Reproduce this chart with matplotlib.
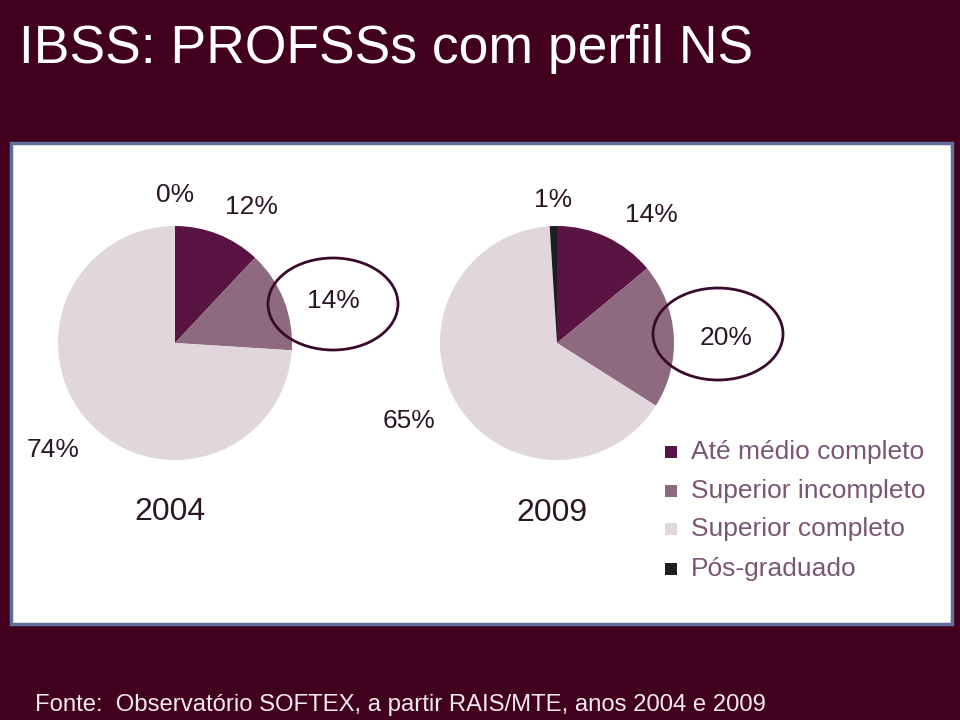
import matplotlib
matplotlib.use("Agg")
import matplotlib.pyplot as plt
from matplotlib import font_manager
from matplotlib.patches import Rectangle, Ellipse

# ---------------- data ----------------
categories = ["Até médio completo", "Superior incompleto", "Superior completo", "Pós-graduado"]
values_2004 = [12, 14, 74, 0]
values_2009 = [14, 20, 65, 1]
years = ["2004", "2009"]
title = "IBSS: PROFSSs com perfil NS"
source = "Fonte:  Observatório SOFTEX, a partir RAIS/MTE, anos 2004 e 2009"

colors = ["#5a1444", "#8e6a80", "#e0d6dc", "#1e1e1e"]
BG = "#42001f"

names = {f.name for f in font_manager.fontManager.ttflist}
REG = "Liberation Sans" if "Liberation Sans" in names else "DejaVu Sans"

W, H = 960, 720
fig = plt.figure(figsize=(9.6, 7.2), dpi=100, facecolor=BG)

def box(cx, cy, r):
    return [(cx - r) / W, 1 - (cy + r) / H, 2 * r / W, 2 * r / H]

# background / panel axes in pixel coordinates
bg = fig.add_axes([0, 0, 1, 1], zorder=0)
bg.set_xlim(0, W); bg.set_ylim(H, 0); bg.axis("off")
bg.add_patch(Rectangle((11, 143), 941, 481, facecolor="white",
                       edgecolor="#5e6f9c", linewidth=2.5))

# pies
centers = [(175, 343), (557, 343)]
radius = 117
for (cx, cy), vals in zip(centers, [values_2004, values_2009]):
    ax = fig.add_axes(box(cx, cy, radius), zorder=1)
    ax.pie(vals, colors=colors, startangle=90, counterclock=False, radius=1,
           wedgeprops=dict(linewidth=0))
    ax.set_xlim(-1, 1); ax.set_ylim(-1, 1); ax.set_aspect("equal")
    ax.axis("off")

# overlay
ov = fig.add_axes([0, 0, 1, 1], zorder=2)
ov.set_xlim(0, W); ov.set_ylim(H, 0); ov.axis("off"); ov.patch.set_alpha(0)

ov.text(19, 49, title, color="white", fontsize=38.5, family=REG,
        ha="left", va="center")
ov.text(35, 705, source, color="#f3e9ef", fontsize=17.2, family=REG,
        ha="left", va="center")

lab_color = "#2b1626"
lab_fs = 19
# label positions (order: Até médio, Sup inc, Sup comp, Pós)
pos_2004 = [(251, 207), (333, 301), (53, 450), (175, 195)]
pos_2009 = [(651, 215), (726, 338), (409, 421), (553, 200)]
for pos, vals in [(pos_2004, values_2004), (pos_2009, values_2009)]:
    for (x, y), v in zip(pos, vals):
        ov.text(x, y, f"{v}%", color=lab_color, fontsize=lab_fs, family=REG,
                ha="center", va="center")

ov.text(170, 512, years[0], color=lab_color, fontsize=23, family=REG,
        ha="center", va="center")
ov.text(552, 513, years[1], color=lab_color, fontsize=23, family=REG,
        ha="center", va="center")

for cx, cy in [(333, 304), (718, 334)]:
    ov.add_patch(Ellipse((cx, cy), 130, 92, facecolor="none",
                         edgecolor="#3a0a2c", linewidth=2))

# legend
leg_y = [452, 491, 529, 569]
for c, name, y in zip(colors, categories, leg_y):
    ov.add_patch(Rectangle((665, y - 6), 12, 12, facecolor=c, edgecolor="none"))
    ov.text(691, y, name, color="#7a5675", fontsize=19, family=REG,
            ha="left", va="center")

fig.savefig("out.png", dpi=100, facecolor=BG)
